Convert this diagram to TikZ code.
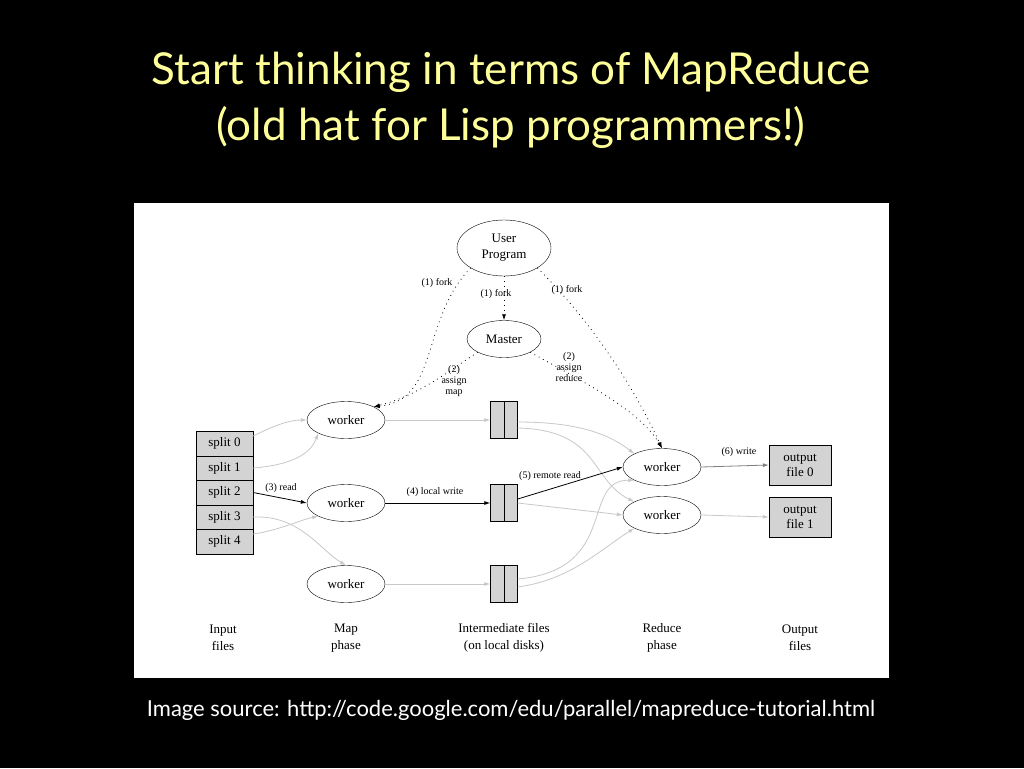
\documentclass[tikz,border=0pt]{standalone}
\usepackage{fontspec}
\setmainfont{Liberation Serif}
\newfontfamily\titlefont{Lato}
\usetikzlibrary{arrows.meta,shapes.geometric}
\definecolor{ttl}{HTML}{FFFF99}
\definecolor{boxg}{HTML}{D3D3D3}
\definecolor{lg}{HTML}{C8C8C8}
\begin{document}
\begin{tikzpicture}[x=1pt,y=-1pt,
  ell/.style={draw,ellipse,minimum width=78pt,minimum height=37pt,inner sep=0pt,font=\fontsize{13}{14}\selectfont},
  split/.style={draw,fill=boxg,minimum width=57pt,minimum height=24.5pt,inner sep=0pt,font=\fontsize{13}{14}\selectfont},
  ifile/.style={draw,fill=boxg,minimum width=27pt,minimum height=37pt,inner sep=0pt},
  ofile/.style={draw,fill=boxg,minimum width=62pt,minimum height=40pt,inner sep=0pt,align=center,font=\fontsize{13}{15}\selectfont},
  lbl/.style={font=\fontsize{10}{11}\selectfont,align=center,inner sep=1pt},
  phase/.style={font=\fontsize{13}{17}\selectfont,align=center},
  dot/.style={loosely dotted,thick,-{Latex[length=6pt,width=4pt]}},
  gr/.style={lg,thick,-{Latex[length=6pt,width=4pt]}},
  bk/.style={black,thick,-{Latex[length=6pt,width=4pt]}}]
\fill[black] (0,0) rectangle (1024,768);
\useasboundingbox (0,0) rectangle (1024,768);
\fill[white] (134,203) rectangle (889,678);
\node[ttl,font=\titlefont\fontsize{44}{48}\selectfont] (t1) at (511,72) {Start thinking in terms of MapReduce};
\node[ttl,font=\titlefont\fontsize{44}{48}\selectfont] (t2) at (511,127) {(old hat for Lisp programmers!)};
\node[white,font=\titlefont\fontsize{22}{24}\selectfont] (src) at (511,710) {Image source: http://code.google.com/edu/parallel/mapreduce-tutorial.html};

\node[ell,minimum width=94pt,minimum height=56pt,align=center,font=\fontsize{13}{16}\selectfont] (up) at (504,248) {User\\Program};
\node[ell,minimum width=74pt] (ms) at (504,339) {Master};
\node[ell] (w1) at (346,420) {worker};
\node[ell] (w2) at (346,503) {worker};
\node[ell] (w3) at (346,584) {worker};
\node[ell] (r1) at (662,467) {worker};
\node[ell] (r2) at (662,515) {worker};
\foreach \i/\y in {0/443.5,1/468,2/492.5,3/517,4/541.5}
  \node[split] (s\i) at (224.5,\y) {split \i};
\foreach \i/\y in {1/420,2/503,3/584}{
  \node[ifile] (f\i) at (504,\y) {};
  \draw (f\i.north) -- (f\i.south);}
\node[ofile] (o0) at (800,465) {output\\file 0};
\node[ofile] (o1) at (800,517) {output\\file 1};

\node[phase] (p1) at (223,638) {Input\\files};
\node[phase] (p2) at (346,638) {Map\\phase};
\node[phase] (p3) at (504,638) {Intermediate files\\(on local disks)};
\node[phase] (p4) at (662,638) {Reduce\\phase};
\node[phase] (p5) at (800,638) {Output\\files};

% forks
\draw[dot] (up.south west) .. controls (420,320) and (440,400) .. (w1.north east);
\draw[dot] (up.south) -- (ms.north);
\draw[dot] (up.south east) .. controls (600,330) and (640,400) .. (r1.north);
\draw[dot] (ms.south west) .. controls (450,370) and (420,395) .. (w1.north east);
\draw[dot] (ms.south east) .. controls (580,380) and (640,410) .. (r1.north);
\node[lbl] (l1) at (437,283) {(1) fork};
\node[lbl] (l2) at (496,294) {(1) fork};
\node[lbl] (l3) at (567,290) {(1) fork};
\node[lbl] (l4) at (454,381) {(2)\\assign\\map};
\node[lbl] (l5) at (569,367) {(2)\\assign\\reduce};

% reads
\draw[gr] (s0.north east) ++(0,5) .. controls (275,425) and (290,420) .. (w1.west);
\draw[gr] (s1.east) .. controls (290,465) and (310,455) .. (w1.south west);
\draw[bk] (s2.east) -- (w2.west);
\node[lbl] (l6) at (281,488) {(3) read};
\draw[gr] (s3.east) .. controls (300,515) and (320,550) .. (w3.north);
\draw[gr] (s4.north east) ++(0,5) .. controls (280,530) and (300,520) .. (w2.south west);

% writes
\draw[gr] (w1.east) -- (f1.west);
\draw[bk] (w2.east) -- (f2.west);
\node[lbl] (l7) at (435,492) {(4) local write};
\draw[gr] (w3.east) -- (f3.west);

% remote reads
\draw[gr] (f1.east) ++(0,2) .. controls (580,422) and (610,435) .. (r1.north west);
\draw[gr] (f1.east) ++(0,8) .. controls (600,430) and (590,480) .. (r2.north west);
\draw[bk] (f2.east) ++(0,-4) -- (r1.west);
\node[lbl] (l8) at (550,476) {(5) remote read};
\draw[gr] (f2.east) -- (r2.west);
\draw[gr] (f3.east) ++(0,-5) .. controls (620,570) and (580,480) .. (r1.south west);
\draw[gr] (f3.east) ++(0,3) .. controls (570,580) and (600,550) .. (r2.south west);

% output
\draw[bk,gray] (r1.east) -- (o0.west);
\node[lbl] (l9) at (739,452) {(6) write};
\draw[gr] (r2.east) -- (o1.west);
\end{tikzpicture}
\end{document}
